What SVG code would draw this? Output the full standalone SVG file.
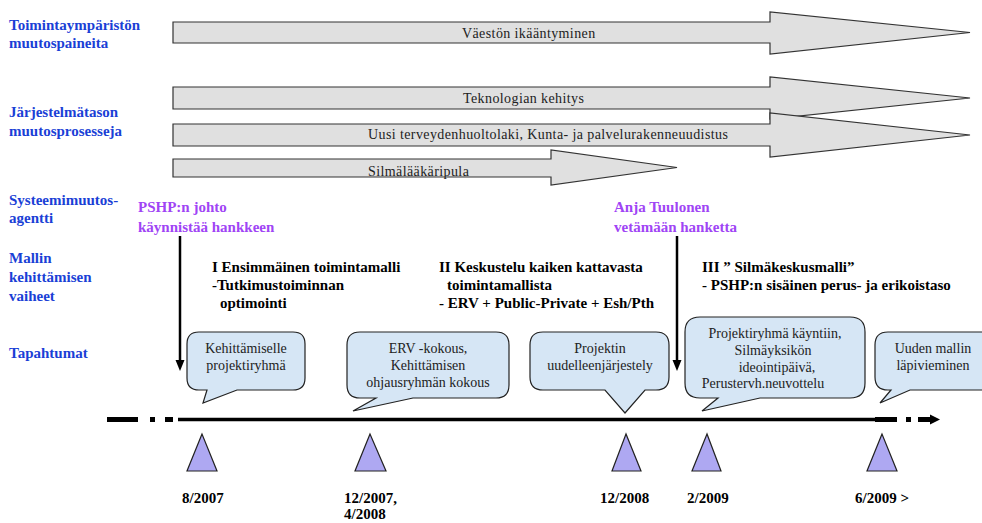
<svg xmlns="http://www.w3.org/2000/svg" width="982" height="523" viewBox="0 0 982 523">
<style>
.lbl,.ag,.ph,.dt,.at,.bt{font-family:"Liberation Serif","Times New Roman","DejaVu Serif",serif}
.lbl{font-weight:bold;font-size:15px;fill:#1a3fd6}
.ag{font-weight:bold;font-size:15px;fill:#a044f5}
.ph{font-weight:bold;font-size:15px;fill:#000}
.dt{font-weight:bold;font-size:15px;fill:#000}
.at{font-size:14px;fill:#222;letter-spacing:0.4px}
.bt{font-size:14px;fill:#222;text-anchor:middle}
.arr{fill:#e0e0e0;stroke:#333;stroke-width:1.2}
.bub{fill:#d6e6f5;stroke:#222;stroke-width:1.2}
.tri{fill:#aea8f2;stroke:#222;stroke-width:1.2}
</style>

<g id="labels">
<text class="lbl" x="9" y="30">Toimintaympäristön</text>
<text class="lbl" x="9" y="48">muutospaineita</text>
<text class="lbl" x="9" y="117">Järjestelmätason</text>
<text class="lbl" x="9" y="136">muutosprosesseja</text>
<text class="lbl" x="9" y="205">Systeemimuutos-</text>
<text class="lbl" x="9" y="223">agentti</text>
<text class="lbl" x="9" y="263">Mallin</text>
<text class="lbl" x="9" y="282">kehittämisen</text>
<text class="lbl" x="9" y="301">vaiheet</text>
<text class="lbl" x="9" y="358">Tapahtumat</text>
</g>

<g id="arrow-vaesto">
<path class="arr" d="M173,22 H770 V12 L970,32.5 L770,54 V43 H173 Z"/>
<text class="at" x="462" y="37.5">Väestön ikääntyminen</text>
</g>
<g id="arrow-teknologia">
<path class="arr" d="M173,87 H770 V77 L970,98 L770,119 V109 H173 Z"/>
<text class="at" x="463" y="103">Teknologian kehitys</text>
</g>
<g id="arrow-laki">
<path class="arr" d="M173,124 H770 V113 L970,135 L770,157 V146 H173 Z"/>
<text class="at" x="368" y="139">Uusi terveydenhuoltolaki, Kunta- ja palvelurakenneuudistus</text>
</g>
<g id="arrow-silmalaakaripula">
<path class="arr" d="M173,159 H551 V150 L677,167.5 L551,185 V177 H173 Z"/>
<text class="at" x="368" y="176">Silmälääkäripula</text>
</g>

<g id="agent-pshp">
<text class="ag" x="138" y="212">PSHP:n johto</text>
<text class="ag" x="138" y="232">käynnistää hankkeen</text>
</g>
<g id="agent-anja">
<text class="ag" x="614" y="212">Anja Tuulonen</text>
<text class="ag" x="614" y="232">vetämään hanketta</text>
</g>

<g id="phase-1">
<text class="ph" x="212" y="272">I Ensimmäinen toimintamalli</text>
<text class="ph" x="212" y="290">-Tutkimustoiminnan</text>
<text class="ph" x="220" y="308">optimointi</text>
</g>
<g id="phase-2">
<text class="ph" x="439" y="272">II Keskustelu kaiken kattavasta</text>
<text class="ph" x="447" y="290">toimintamallista</text>
<text class="ph" x="439" y="308">- ERV + Public-Private + Esh/Pth</text>
</g>
<g id="phase-3">
<text class="ph" x="702" y="272">III ” Silmäkeskusmalli”</text>
<text class="ph" x="702" y="290">- PSHP:n sisäinen perus- ja erikoistaso</text>
</g>

<g id="event-1">
<path class="bub" d="M199,332 H293 Q305,332 305,344 V378 Q305,390 293,390 H237 L203,403 L207,390 H199 Q187,390 187,378 V344 Q187,332 199,332 Z"/>
<text class="bt" x="246" y="353">Kehittämiselle</text>
<text class="bt" x="246" y="370">projektiryhmä</text>
</g>
<g id="event-2">
<path class="bub" d="M360,332 H496 Q509,332 509,345 V385 Q509,398 496,398 H413 L353,411 L376,398 H360 Q347,398 347,385 V345 Q347,332 360,332 Z"/>
<text class="bt" x="428" y="353">ERV -kokous,</text>
<text class="bt" x="428" y="370">Kehittämisen</text>
<text class="bt" x="428" y="387">ohjausryhmän kokous</text>
</g>
<g id="event-3">
<path class="bub" d="M543,332 H656 Q669,332 669,345 V377 Q669,390 656,390 H645 L625,413 L605,390 H543 Q530,390 530,377 V345 Q530,332 543,332 Z"/>
<text class="bt" x="600" y="353">Projektin</text>
<text class="bt" x="600" y="370">uudelleenjärjestely</text>
</g>
<g id="event-4">
<path class="bub" d="M700,317 H850 Q865,317 865,332 V383 Q865,398 850,398 H760 L702,411 L718,398 H700 Q685,398 685,383 V332 Q685,317 700,317 Z"/>
<text class="bt" x="775" y="338">Projektiryhmä käyntiin,</text>
<text class="bt" x="773" y="355">Silmäyksikön</text>
<text class="bt" x="777" y="372">ideointipäivä,</text>
<text class="bt" x="763" y="388">Perustervh.neuvottelu</text>
</g>
<g id="event-5">
<path class="bub" d="M888,332 H1000 V390 H910 L880,403 L891,390 H888 Q875,390 875,377 V345 Q875,332 888,332 Z"/>
<text class="bt" x="933" y="353">Uuden mallin</text>
<text class="bt" x="933" y="370">läpivieminen</text>
</g>

<g id="timeline">
<rect x="107" y="417" width="31" height="5" fill="#000"/>
<rect x="150" y="417" width="5" height="5" fill="#000"/>
<rect x="165" y="417" width="8" height="5" fill="#000"/>
<line x1="178" y1="419.5" x2="876" y2="419.5" stroke="#000" stroke-width="3.5"/>
<rect x="875" y="417" width="22" height="5" fill="#000"/>
<rect x="906" y="417" width="5" height="5" fill="#000"/>
<rect x="918" y="417" width="13" height="5" fill="#000"/>
<polygon points="930,414.5 940,419.5 930,424.5" fill="#000"/>
</g>

<g id="markers">
<polygon class="tri" points="202,434 187,471 217,471"/>
<polygon class="tri" points="370,434 355,471 386,471"/>
<polygon class="tri" points="626,434 612,471 641,471"/>
<polygon class="tri" points="707,434 692,471 721,471"/>
<polygon class="tri" points="882,434 867,471 897,471"/>
</g>

<g id="dates">
<text class="dt" x="182" y="503">8/2007</text>
<text class="dt" x="344" y="503">12/2007,</text>
<text class="dt" x="344" y="519">4/2008</text>
<text class="dt" x="600" y="503">12/2008</text>
<text class="dt" x="687" y="503">2/2009</text>
<text class="dt" x="855" y="503">6/2009 &gt;</text>
</g>

<g id="connectors">
<line x1="180" y1="236" x2="180" y2="361" stroke="#000" stroke-width="2.5"/>
<polygon points="175.5,360 184.5,360 180,371" fill="#000"/>
<line x1="677" y1="236" x2="677" y2="361" stroke="#000" stroke-width="2.5"/>
<polygon points="672.5,360 681.5,360 677,371" fill="#000"/>
</g>
</svg>
